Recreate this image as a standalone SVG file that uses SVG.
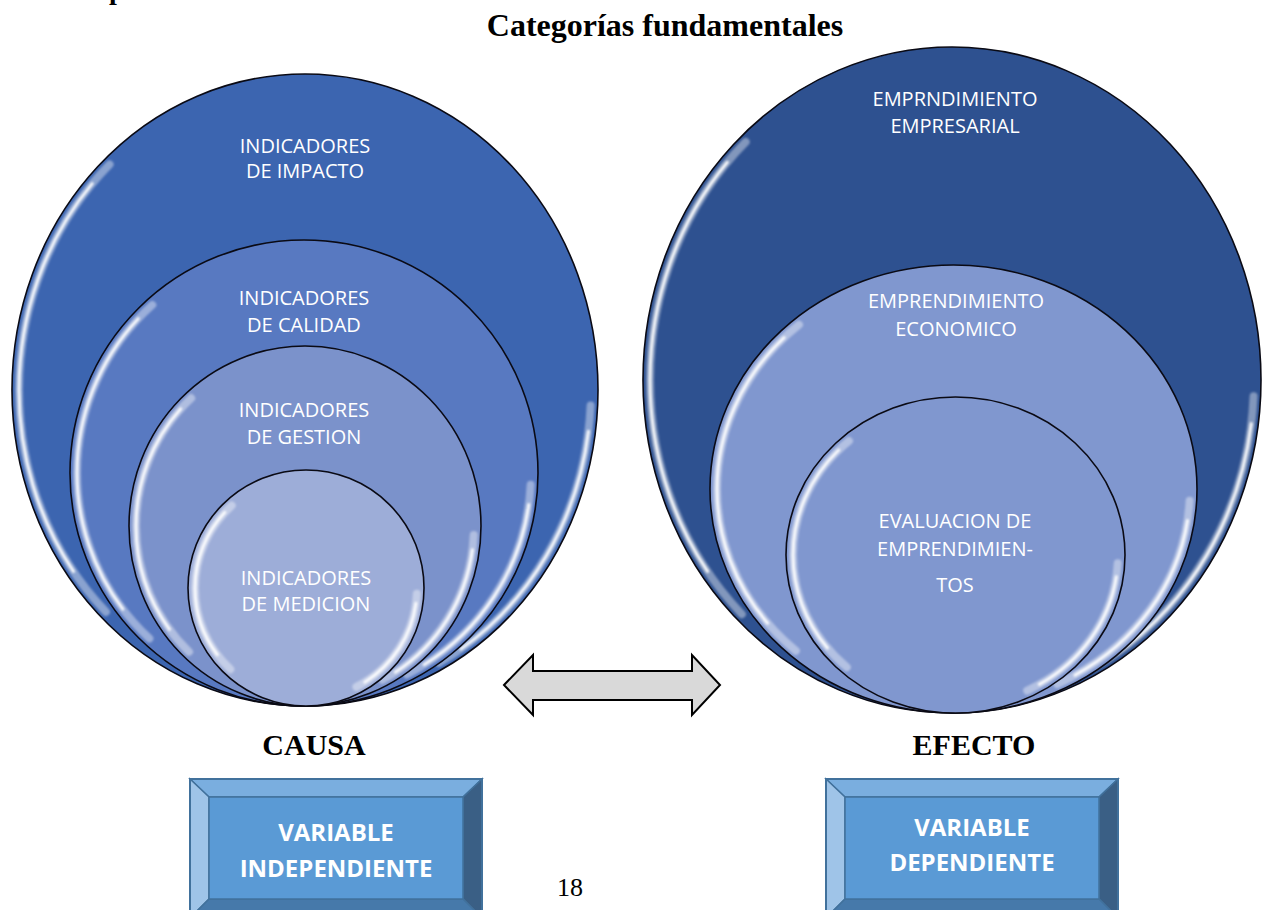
<svg xmlns="http://www.w3.org/2000/svg" width="1263" height="910" viewBox="0 0 1263 910">
<style>
.ttl{font-family:"Liberation Serif","Times New Roman",serif;font-weight:bold;fill:#000}
.lbl{font-family:"Open Sans","Noto Sans",sans-serif;font-size:20px;fill:#fff;text-anchor:middle}
.box{font-family:"Open Sans","Noto Sans",sans-serif;font-size:24px;font-weight:bold;fill:#fff;text-anchor:middle}
.ring{stroke:#0a0a14;stroke-width:1.6}
.hlw{fill:none;stroke:#fff;stroke-opacity:0.4;stroke-width:8;stroke-linecap:round;filter:url(#soft)}
.hlt{fill:none;stroke:#fff;stroke-opacity:0.95;stroke-width:3;stroke-linecap:round;filter:url(#soft)}
.bev{stroke:#41719c;stroke-width:1.5;stroke-linejoin:miter}
</style>
<defs>
<filter id="soft" x="-5%" y="-5%" width="110%" height="110%"><feGaussianBlur stdDeviation="1"/></filter>
</defs>
<rect width="1263" height="910" fill="#fff"/>
<text class="ttl" x="109" y="-1" font-size="28">p</text>
<text class="ttl" x="665" y="36" font-size="32" text-anchor="middle">Categorías fundamentales</text>

<g id="causa-circles">
<g id="c-impacto">
<ellipse class="ring" cx="305" cy="390" rx="293" ry="316" fill="#3c65b0"/>
<ellipse class="hlw" cx="305" cy="390" rx="286" ry="309" pathLength="360" stroke-dasharray="60 70 95 135" stroke-dashoffset="-3"/>
<ellipse class="hlt" cx="305" cy="390" rx="286" ry="309" pathLength="360" stroke-dasharray="50 85 80 145" stroke-dashoffset="-8"/>
<text class="lbl" x="305" y="153">INDICADORES</text>
<text class="lbl" x="305" y="178">DE IMPACTO</text>
</g>
<g id="c-calidad">
<ellipse class="ring" cx="304" cy="473" rx="234" ry="233" fill="#5879c1"/>
<ellipse class="hlw" cx="304" cy="473" rx="227" ry="226" pathLength="360" stroke-dasharray="60 70 95 135" stroke-dashoffset="-3"/>
<ellipse class="hlt" cx="304" cy="473" rx="227" ry="226" pathLength="360" stroke-dasharray="50 85 80 145" stroke-dashoffset="-8"/>
<text class="lbl" x="304" y="305">INDICADORES</text>
<text class="lbl" x="304" y="332">DE CALIDAD</text>
</g>
<g id="c-gestion">
<ellipse class="ring" cx="305" cy="526" rx="176" ry="180" fill="#7b92cb"/>
<ellipse class="hlw" cx="305" cy="526" rx="169" ry="173" pathLength="360" stroke-dasharray="60 70 95 135" stroke-dashoffset="-3"/>
<ellipse class="hlt" cx="305" cy="526" rx="169" ry="173" pathLength="360" stroke-dasharray="50 85 80 145" stroke-dashoffset="-8"/>
<text class="lbl" x="304" y="417">INDICADORES</text>
<text class="lbl" x="304" y="444">DE GESTION</text>
</g>
<g id="c-medicion">
<ellipse class="ring" cx="306" cy="588" rx="118" ry="118" fill="#9dadd8"/>
<ellipse class="hlw" cx="306" cy="588" rx="111" ry="111" pathLength="360" stroke-dasharray="60 70 95 135" stroke-dashoffset="-3"/>
<ellipse class="hlt" cx="306" cy="588" rx="111" ry="111" pathLength="360" stroke-dasharray="50 85 80 145" stroke-dashoffset="-8"/>
<text class="lbl" x="306" y="585" fill="#eef1fa">INDICADORES</text>
<text class="lbl" x="306" y="611" fill="#eef1fa">DE MEDICION</text>
</g>
</g>

<g id="efecto-circles">
<g id="c-empresarial">
<ellipse class="ring" cx="952" cy="380" rx="309" ry="333" fill="#2e5190"/>
<ellipse class="hlw" cx="952" cy="380" rx="302" ry="326" pathLength="360" stroke-dasharray="60 70 95 135" stroke-dashoffset="-3"/>
<ellipse class="hlt" cx="952" cy="380" rx="302" ry="326" pathLength="360" stroke-dasharray="50 85 80 145" stroke-dashoffset="-8"/>
<text class="lbl" x="955" y="106">EMPRNDIMIENTO</text>
<text class="lbl" x="955" y="133">EMPRESARIAL</text>
</g>
<g id="c-economico">
<ellipse class="ring" cx="953.5" cy="489" rx="243.5" ry="224" fill="#8097cf"/>
<ellipse class="hlw" cx="953.5" cy="489" rx="236.5" ry="217" pathLength="360" stroke-dasharray="60 70 95 135" stroke-dashoffset="-3"/>
<ellipse class="hlt" cx="953.5" cy="489" rx="236.5" ry="217" pathLength="360" stroke-dasharray="50 85 80 145" stroke-dashoffset="-8"/>
<text class="lbl" x="956" y="308">EMPRENDIMIENTO</text>
<text class="lbl" x="956" y="336">ECONOMICO</text>
</g>
<g id="c-evaluacion">
<ellipse class="ring" cx="955.5" cy="555" rx="169.5" ry="158" fill="#8097cf"/>
<ellipse class="hlw" cx="955.5" cy="555" rx="162.5" ry="151" pathLength="360" stroke-dasharray="60 70 95 135" stroke-dashoffset="-3"/>
<ellipse class="hlt" cx="955.5" cy="555" rx="162.5" ry="151" pathLength="360" stroke-dasharray="50 85 80 145" stroke-dashoffset="-8"/>
<text class="lbl" x="955" y="528">EVALUACION DE</text>
<text class="lbl" x="955" y="556">EMPRENDIMIEN-</text>
<text class="lbl" x="955" y="592">TOS</text>
</g>
</g>

<g id="connectors">
<polygon points="504,685 533,655 533,671 692,671 692,655 720,685 692,715 692,700 533,700 533,715" fill="#d9d9d9" stroke="#000" stroke-width="2" stroke-linejoin="miter"/>
</g>

<g id="causa-label"><text class="ttl" x="314" y="755" font-size="30" text-anchor="middle">CAUSA</text></g>
<g id="efecto-label"><text class="ttl" x="974" y="755" font-size="30" text-anchor="middle">EFECTO</text></g>

<g id="var-independiente">
<rect x="190" y="779" width="292" height="139" fill="#5b9bd5"/>
<polygon class="bev" points="190,779 482,779 463,797 209,797" fill="#7aaedf"/>
<polygon class="bev" points="190,779 209,797 209,899 190,918" fill="#9fc4e8"/>
<polygon class="bev" points="482,779 463,797 463,899 482,918" fill="#3a5f85"/>
<polygon class="bev" points="209,899 463,899 482,918 190,918" fill="#4679aa"/>
<rect class="bev" x="209" y="797" width="254" height="102" fill="#5a9ad5"/>
<rect x="190" y="779" width="292" height="139" fill="none" stroke="#41719c" stroke-width="2"/>
<text class="box" x="336" y="841">VARIABLE</text>
<text class="box" x="336" y="877">INDEPENDIENTE</text>
</g>

<g id="var-dependiente">
<rect x="826" y="779" width="292" height="139" fill="#5b9bd5"/>
<polygon class="bev" points="826,779 1118,779 1099,797 845,797" fill="#7aaedf"/>
<polygon class="bev" points="826,779 845,797 845,899 826,918" fill="#9fc4e8"/>
<polygon class="bev" points="1118,779 1099,797 1099,899 1118,918" fill="#3a5f85"/>
<polygon class="bev" points="845,899 1099,899 1118,918 826,918" fill="#4679aa"/>
<rect class="bev" x="845" y="797" width="254" height="102" fill="#5a9ad5"/>
<rect x="826" y="779" width="292" height="139" fill="none" stroke="#41719c" stroke-width="2"/>
<text class="box" x="972" y="836">VARIABLE</text>
<text class="box" x="972" y="871">DEPENDIENTE</text>
</g>

<g id="page-number"><text class="ttl" x="570" y="896" font-size="26" text-anchor="middle" style="font-weight:normal">18</text></g>
</svg>
